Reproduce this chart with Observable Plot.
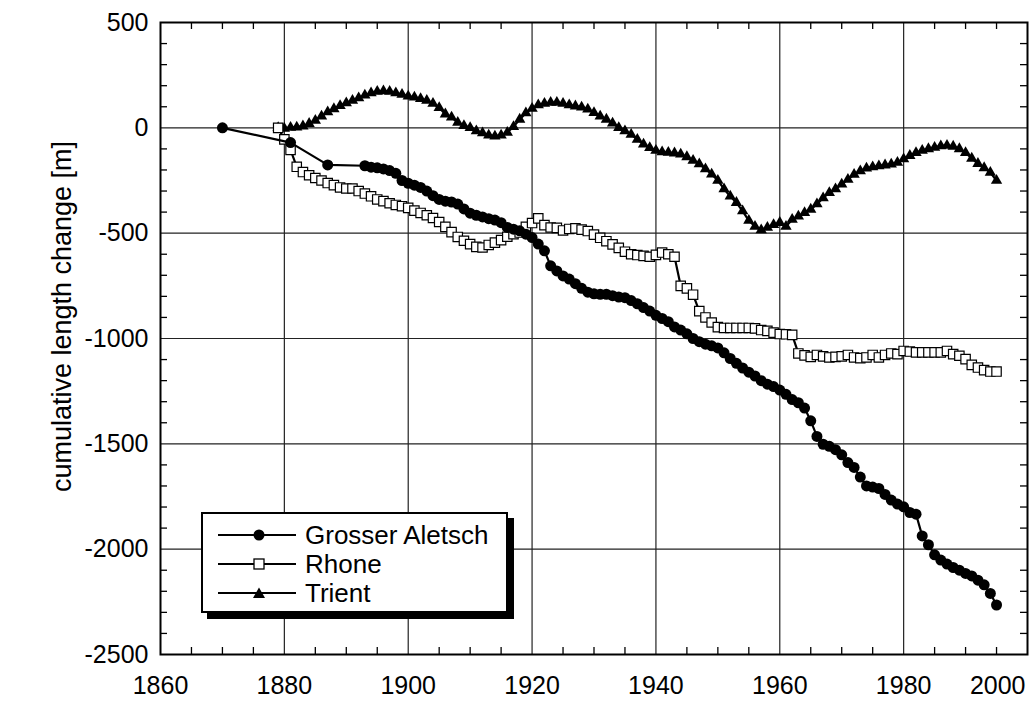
<!DOCTYPE html>
<html><head><meta charset="utf-8">
<script src="https://cdn.jsdelivr.net/npm/d3@7"></script>
<script src="https://cdn.jsdelivr.net/npm/@observablehq/plot@0.6"></script>
<style>
body{margin:0;background:#fff;font-family:"Liberation Sans",Arial,sans-serif;}
#wrap{position:relative;width:1034px;height:702px;overflow:hidden;}
#legend{position:absolute;left:201px;top:512px;width:307px;height:101px;box-sizing:border-box;border:2px solid #000;background:#fff;box-shadow:6px 6px 0 #000;}
.row{position:absolute;left:0;height:30px;width:300px;}
.row svg{position:absolute;left:15px;top:0;}
.row span{position:absolute;left:102px;top:0;line-height:30px;font-size:26px;color:#000;white-space:nowrap;}
</style></head><body><div id="wrap"></div>
<script>
// ---- data ----
const seriesNames = ["Grosser Aletsch", "Rhone", "Trient"];

const aletschEarlyYears = [1870, 1881, 1887];
const aletschEarlyValues = [0, -70, -176];
const aletschAnnualStart = 1893;
const aletschAnnualValues = [
  -180,-187,-190,-195,-203,-216,-250,
  -263,-272,-283,-300,-322,-340,-348,-352,-362,-385,
  -405,-415,-423,-431,-438,-450,-473,-481,-489,-505,
  -521,-552,-584,-655,-679,-703,-718,-740,-762,-780,
  -788,-790,-790,-797,-803,-806,-820,-835,-853,-870,
  -890,-905,-920,-945,-960,-978,-1000,-1015,-1027,-1035,
  -1045,-1068,-1095,-1118,-1140,-1160,-1178,-1200,-1217,-1228,
  -1245,-1265,-1290,-1305,-1330,-1391,-1465,-1502,-1512,-1528,
  -1552,-1589,-1612,-1658,-1700,-1705,-1712,-1740,-1767,-1786,
  -1799,-1826,-1834,-1937,-1979,-2027,-2052,-2071,-2087,-2100,
  -2115,-2127,-2147,-2169,-2210,-2265
];

const rhoneStart = 1879;
const rhoneValues = [
  0,-55,-105,-185,-210,-225,-238,-250,-262,-272,-283,
  -288,-288,-300,-312,-325,-340,-348,-358,-366,-372,
  -380,-393,-404,-415,-428,-447,-470,-495,-518,-536,
  -552,-565,-568,-556,-545,-533,-517,-505,-497,-470,
  -452,-430,-462,-473,-475,-487,-480,-477,-483,-490,
  -507,-522,-538,-553,-570,-588,-600,-604,-608,-612,
  -603,-592,-600,-612,-750,-762,-792,-870,-900,-924,
  -946,-950,-950,-950,-950,-950,-952,-960,-964,-972,
  -979,-980,-983,-1071,-1080,-1087,-1078,-1085,-1090,-1087,
  -1085,-1078,-1090,-1093,-1090,-1078,-1090,-1078,-1071,-1074,
  -1059,-1062,-1066,-1066,-1066,-1066,-1066,-1059,-1074,-1082,
  -1098,-1125,-1138,-1150,-1157,-1157
];

const trientStart = 1879;
const trientValues = [
  0,-3,2,3,8,20,35,55,75,90,105,
  118,130,142,155,165,172,175,172,165,158,
  150,145,138,130,115,95,65,50,25,10,
  0,-15,-25,-35,-40,-35,-22,5,40,70,
  92,108,115,120,120,115,108,103,98,88,
  72,55,40,22,0,-15,-32,-55,-78,-95,
  -108,-115,-117,-120,-125,-138,-155,-172,-195,-220,
  -250,-290,-325,-355,-395,-440,-468,-485,-473,-460,
  -450,-468,-435,-420,-403,-387,-362,-333,-308,-290,
  -268,-245,-222,-205,-192,-186,-181,-177,-173,-165,
  -148,-132,-118,-108,-100,-93,-86,-84,-88,-100,
  -118,-145,-170,-190,-212,-250
];

const xTickLabels = [1860, 1880, 1900, 1920, 1940, 1960, 1980, 2000];
const xGridYears = [1880, 1900, 1920, 1940, 1960, 1980];
const xMinorYears = [1865,1870,1875,1885,1890,1895,1905,1910,1915,1925,1930,1935,1945,1950,1955,1965,1970,1975,1985,1990,1995];
const yTickLabels = [500, 0, -500, -1000, -1500, -2000, -2500];
const yGridValues = [0, -500, -1000, -1500, -2000];
const yMinorValues = [400,300,200,100,-100,-200,-300,-400,-600,-700,-800,-900,-1100,-1200,-1300,-1400,-1600,-1700,-1800,-1900,-2100,-2200,-2300,-2400];
const yLabel = "cumulative length change [m]";

// ---- tables ----
const aletsch = aletschEarlyYears.map((y, i) => ({year: y, value: aletschEarlyValues[i]}))
  .concat(aletschAnnualValues.map((v, i) => ({year: aletschAnnualStart + i, value: v})));
const rhone = rhoneValues.map((v, i) => ({year: rhoneStart + i, value: v}));
const trient = trientValues.map((v, i) => ({year: trientStart + i, value: v}));

const innerH = 702 - 22 - 48, innerW = 1034 - 160 - 7, tick = 7;

const chart = Plot.plot({
  width: 1034, height: 702,
  marginLeft: 160, marginRight: 7, marginTop: 22, marginBottom: 48,
  x: {domain: [1860, 2000], axis: null},
  y: {domain: [-2500, 500], axis: null},
  style: {fontFamily: '"Liberation Sans", Arial, sans-serif', fontSize: "25px", background: "white", color: "black"},
  marks: [
    Plot.ruleX(xGridYears, {stroke: "#222", strokeWidth: 1.2}),
    Plot.ruleY(yGridValues, {stroke: "#222", strokeWidth: 1.2}),
    Plot.ruleX(xMinorYears, {insetBottom: innerH - tick, stroke: "#000", strokeWidth: 1.3}),
    Plot.ruleX(xMinorYears, {insetTop: innerH - tick, stroke: "#000", strokeWidth: 1.3}),
    Plot.ruleY(yMinorValues, {insetRight: innerW - tick, stroke: "#000", strokeWidth: 1.3}),
    Plot.ruleY(yMinorValues, {insetLeft: innerW - tick, stroke: "#000", strokeWidth: 1.3}),
    Plot.frame({stroke: "#000", strokeWidth: 2}),
    Plot.text(yTickLabels, {y: d => d, frameAnchor: "left", textAnchor: "end", dx: -12, text: d => String(d), fill: "#000"}),
    Plot.text(xTickLabels.filter(d => d < 2000), {x: d => d, frameAnchor: "bottom", lineAnchor: "top", dy: 22, text: d => String(d), fill: "#000"}),
    Plot.text(xTickLabels.filter(d => d === 2000), {x: d => d, frameAnchor: "bottom", lineAnchor: "top", dy: 22, textAnchor: "end", dx: -2, text: d => String(d), fill: "#000"}),
    Plot.text([yLabel], {frameAnchor: "left", textAnchor: "middle", rotate: -90, dx: -98, dy: -22, fontSize: 27, fill: "#000"}),
    // Trient
    Plot.line(trient, {x: "year", y: "value", stroke: "#000", strokeWidth: 2.2}),
    Plot.dot(trient, {x: "year", y: "value", symbol: "triangle", r: 4.2, fill: "#000", stroke: null}),
    // Rhone
    Plot.line(rhone, {x: "year", y: "value", stroke: "#000", strokeWidth: 2.2}),
    Plot.dot(rhone, {x: "year", y: "value", symbol: "square", r: 5.3, fill: "#fff", stroke: "#000", strokeWidth: 1.2}),
    // Grosser Aletsch
    Plot.line(aletsch, {x: "year", y: "value", stroke: "#000", strokeWidth: 2.2}),
    Plot.dot(aletsch, {x: "year", y: "value", r: 5.5, fill: "#000", stroke: null})
  ]
});

const wrap = document.getElementById("wrap");
wrap.appendChild(chart);

// legend
const legend = document.createElement("div");
legend.id = "legend";
const rowCenters = [21, 50, 79];
const markerSvg = [
  '<circle cx="41" cy="15" r="5.5" fill="#000"/>',
  '<rect x="36" y="10" width="10" height="10" fill="#fff" stroke="#000" stroke-width="1.3"/>',
  '<path d="M41,9.5 L47,20 L35,20 Z" fill="#000"/>'
];
seriesNames.forEach((name, i) => {
  const row = document.createElement("div");
  row.className = "row";
  row.style.top = (rowCenters[i] - 15) + "px";
  row.innerHTML = '<svg width="80" height="30"><line x1="0" x2="78" y1="15" y2="15" stroke="#000" stroke-width="2.2"/>' + markerSvg[i] + '</svg><span>' + name + '</span>';
  legend.appendChild(row);
});
wrap.appendChild(legend);
</script>
</body></html>
